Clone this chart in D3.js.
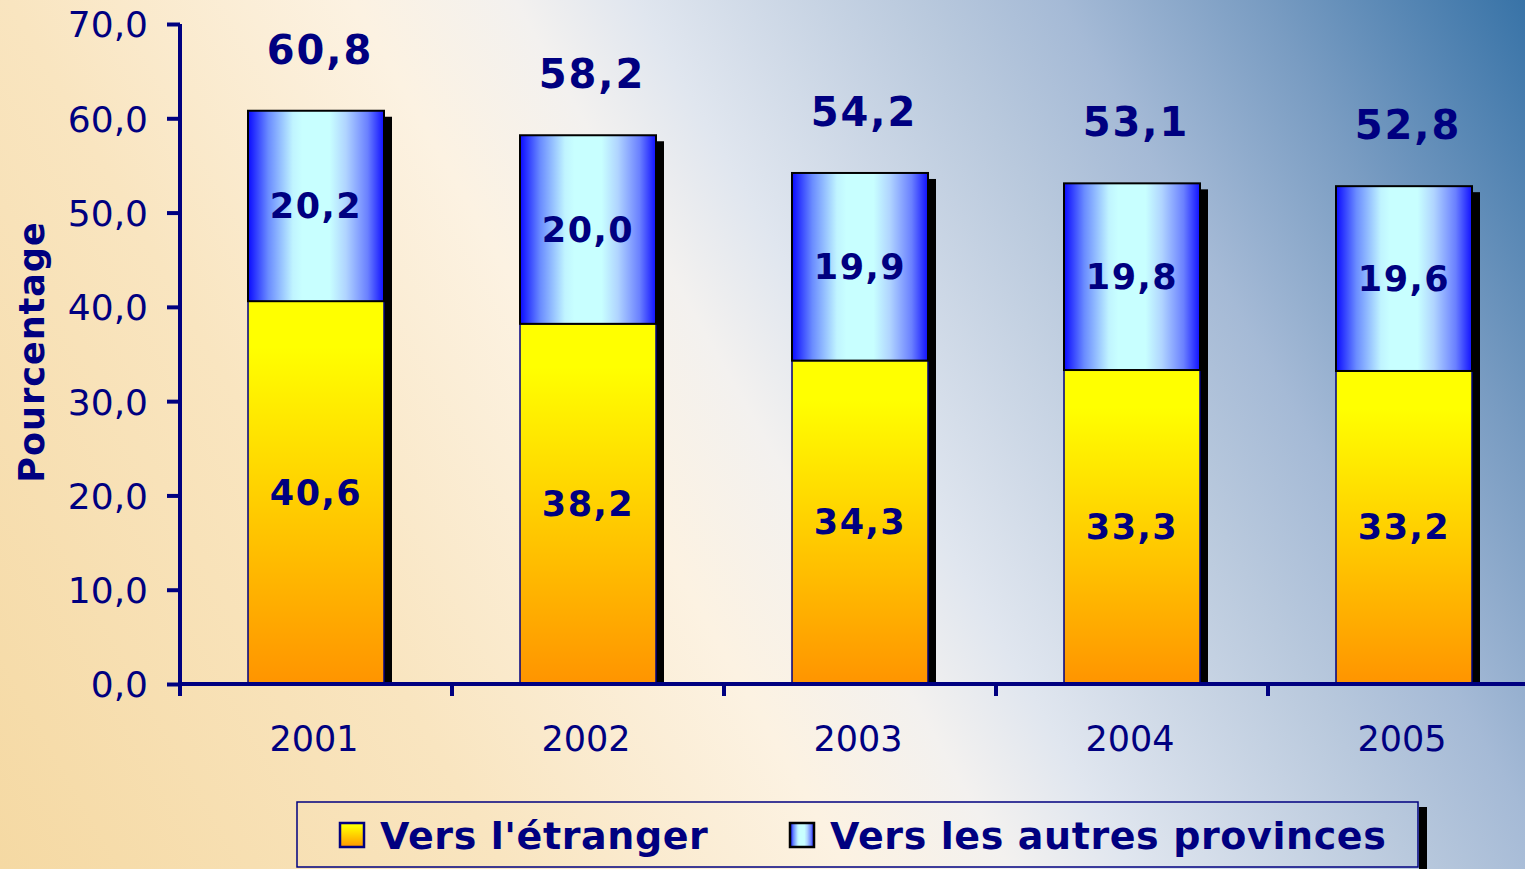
<!DOCTYPE html>
<html>
<head>
<meta charset="utf-8">
<script src="https://cdn.jsdelivr.net/npm/d3@7"></script>
<style>
  html, body { margin: 0; padding: 0; overflow: hidden; }
  svg { display: block; }
</style>
</head>
<body>
<svg id="chart" width="1525" height="869"></svg>
<script>
// Chart data
const years = ["2001", "2002", "2003", "2004", "2005"];
const etranger = [40.6, 38.2, 34.3, 33.3, 33.2];
const provinces = [20.2, 20.0, 19.9, 19.8, 19.6];
const totals = [60.8, 58.2, 54.2, 53.1, 52.8];
const yTicks = [0, 10, 20, 30, 40, 50, 60, 70];
const seriesNames = ["Vers l'étranger", "Vers les autres provinces"];

const NAVY = "#000080";
const WIDTH = 1525;
const HEIGHT = 869;

const rows = years.map((year, i) => ({ year, etranger: etranger[i], provinces: provinces[i] }));
const stacked = d3.stack().keys(["etranger", "provinces"])(rows);

// French number format: 40,6
const fr = d3.formatLocale({ decimal: ",", thousands: " ", grouping: [3], currency: ["", " €"] });
const fmt = fr.format(".1f");

const svg = d3.select("#chart");
const defs = svg.append("defs");

// Background gradient, peach at bottom left to steel blue at top right
const bg = defs.append("linearGradient")
  .attr("id", "bg")
  .attr("gradientUnits", "userSpaceOnUse")
  .attr("x1", 0).attr("y1", HEIGHT)
  .attr("x2", WIDTH).attr("y2", 0);
[
  [0, "#f5d9a3"], [0.25, "#f9e5c0"], [0.42, "#fcf2e2"], [0.5, "#f3f1ef"],
  [0.56, "#e0e6ef"], [0.7, "#b9c9dd"], [0.77, "#a5bad6"], [0.87, "#799cc2"], [1, "#3873a7"]
].forEach(([o, c]) => bg.append("stop").attr("offset", o).attr("stop-color", c));

// Yellow to orange (vertical)
const gradYellow = defs.append("linearGradient")
  .attr("id", "gradYellow").attr("x1", 0).attr("y1", 0).attr("x2", 0).attr("y2", 1);
gradYellow.append("stop").attr("offset", 0).attr("stop-color", "#ffff00");
gradYellow.append("stop").attr("offset", 0.12).attr("stop-color", "#ffff00");
gradYellow.append("stop").attr("offset", 1).attr("stop-color", "#ff9400");

// Blue to light cyan to blue (horizontal)
const gradBlue = defs.append("linearGradient")
  .attr("id", "gradBlue").attr("x1", 0).attr("y1", 0).attr("x2", 1).attr("y2", 0);
[[0, "#0a0aff"], [0.15, "#6a8cff"], [0.33, "#c0f4ff"], [0.4, "#c8ffff"], [0.6, "#c8ffff"], [0.72, "#b0d4ff"], [0.88, "#6a80ff"], [1, "#1010ff"]]
  .forEach(([o, c]) => gradBlue.append("stop").attr("offset", o).attr("stop-color", c));

svg.append("rect").attr("width", WIDTH).attr("height", HEIGHT).attr("fill", "url(#bg)");

// SCALES
const xScale = d3.scaleBand()
  .domain(years)
  .range([180, 1540])
  .paddingInner(0.5)
  .paddingOuter(0.25);

const yScale = d3.scaleLinear()
  .domain([0, 70])
  .range([684, 24]);

const bw = xScale.bandwidth();
const step = xScale.step();

// Shadows behind each stacked bar
svg.append("g")
  .selectAll("rect")
  .data(rows)
  .join("rect")
  .attr("x", (d) => xScale(d.year) + 8)
  .attr("y", (d, i) => yScale(totals[i]) + 6)
  .attr("width", bw)
  .attr("height", (d, i) => yScale(0) - yScale(totals[i]) - 6)
  .attr("fill", "#000");

// Stacked bars
const fills = ["url(#gradYellow)", "url(#gradBlue)"];
const strokes = [NAVY, "#000"];
svg.append("g")
  .selectAll("g")
  .data(stacked)
  .join("g")
  .attr("fill", (s, i) => fills[i])
  .attr("stroke", (s, i) => strokes[i])
  .attr("stroke-width", (s, i) => (i === 0 ? 1.5 : 2))
  .selectAll("rect")
  .data((s) => s)
  .join("rect")
  .attr("x", (d) => xScale(d.data.year))
  .attr("y", (d) => yScale(d[1]))
  .attr("width", bw)
  .attr("height", (d) => yScale(d[0]) - yScale(d[1]));

// Segment labels
svg.append("g")
  .selectAll("g")
  .data(stacked)
  .join("g")
  .selectAll("text")
  .data((s) => s)
  .join("text")
  .attr("x", (d) => xScale(d.data.year) + bw / 2)
  .attr("y", (d) => (yScale(d[0]) + yScale(d[1])) / 2 + 12)
  .attr("text-anchor", "middle")
  .attr("font-family", "DejaVu Sans, Verdana, sans-serif")
  .attr("font-weight", "bold")
  .attr("font-size", 35)
  .attr("letter-spacing", 1.5)
  .attr("fill", NAVY)
  .text((d) => fmt(d[1] - d[0]));

// Total labels
svg.append("g")
  .selectAll("text")
  .data(totals)
  .join("text")
  .attr("x", (d, i) => xScale(years[i]) + bw / 2 + 4)
  .attr("y", (d) => yScale(d) - 47)
  .attr("text-anchor", "middle")
  .attr("font-family", "DejaVu Sans, Verdana, sans-serif")
  .attr("font-weight", "bold")
  .attr("font-size", 40)
  .attr("letter-spacing", 2)
  .attr("fill", NAVY)
  .text((d) => fmt(d));

// Y axis
const yAxis = svg.append("g")
  .attr("transform", "translate(180,0)")
  .call(d3.axisLeft(yScale).tickValues(yTicks).tickSize(13).tickPadding(19).tickFormat(fmt));
yAxis.select(".domain").attr("stroke", NAVY).attr("stroke-width", 4).attr("d", `M0,${yScale(70)}V${yScale(0)}`);
yAxis.selectAll(".tick line").attr("stroke", NAVY).attr("stroke-width", 4);
yAxis.selectAll(".tick text")
  .attr("fill", NAVY)
  .attr("font-family", "DejaVu Sans, Verdana, sans-serif")
  .attr("font-size", 36)
  .attr("dy", "0.36em");

// X axis: line, ticks between bands, year labels
const xAxis = svg.append("g");
xAxis.append("line")
  .attr("x1", 178).attr("x2", WIDTH)
  .attr("y1", yScale(0)).attr("y2", yScale(0))
  .attr("stroke", NAVY).attr("stroke-width", 4);
xAxis.selectAll(".xtick")
  .data(years)
  .join("line")
  .attr("class", "xtick")
  .attr("x1", (d) => xScale(d) - step * 0.25)
  .attr("x2", (d) => xScale(d) - step * 0.25)
  .attr("y1", yScale(0))
  .attr("y2", yScale(0) + 12)
  .attr("stroke", NAVY).attr("stroke-width", 4);
xAxis.selectAll(".xlabel")
  .data(years)
  .join("text")
  .attr("class", "xlabel")
  .attr("x", (d) => xScale(d) + bw / 2 - 2)
  .attr("y", 751)
  .attr("text-anchor", "middle")
  .attr("font-family", "DejaVu Sans, Verdana, sans-serif")
  .attr("font-size", 35)
  .attr("fill", NAVY)
  .text((d) => d);

// Y axis title
svg.append("text")
  .attr("transform", "translate(44,352) rotate(-90)")
  .attr("text-anchor", "middle")
  .attr("font-family", "DejaVu Sans, Verdana, sans-serif")
  .attr("font-weight", "bold")
  .attr("font-size", 35)
  .attr("letter-spacing", 1)
  .attr("fill", NAVY)
  .text("Pourcentage");

// Legend
const legend = svg.append("g");
legend.append("rect")
  .attr("x", 1419).attr("y", 807).attr("width", 8).attr("height", 70)
  .attr("fill", "#000");
legend.append("rect")
  .attr("x", 297).attr("y", 802).attr("width", 1121).attr("height", 65)
  .attr("fill", "none").attr("stroke", NAVY).attr("stroke-width", 1.5);

const legendX = [340, 790];
const swatchFill = ["url(#gradYellow)", "url(#gradBlue)"];
const items = legend.selectAll(".item")
  .data(seriesNames)
  .join("g")
  .attr("class", "item")
  .attr("transform", (d, i) => `translate(${legendX[i]},0)`);
items.append("rect")
  .attr("x", 0).attr("y", 823).attr("width", 24).attr("height", 24)
  .attr("fill", (d, i) => swatchFill[i])
  .attr("stroke", (d, i) => strokes[i])
  .attr("stroke-width", 2.5);
items.append("text")
  .attr("x", 40).attr("y", 849)
  .attr("font-family", "DejaVu Sans, Verdana, sans-serif")
  .attr("font-weight", "bold")
  .attr("font-size", 38)
  .attr("letter-spacing", 0.6)
  .attr("fill", NAVY)
  .text((d) => d);
</script>
</body>
</html>
